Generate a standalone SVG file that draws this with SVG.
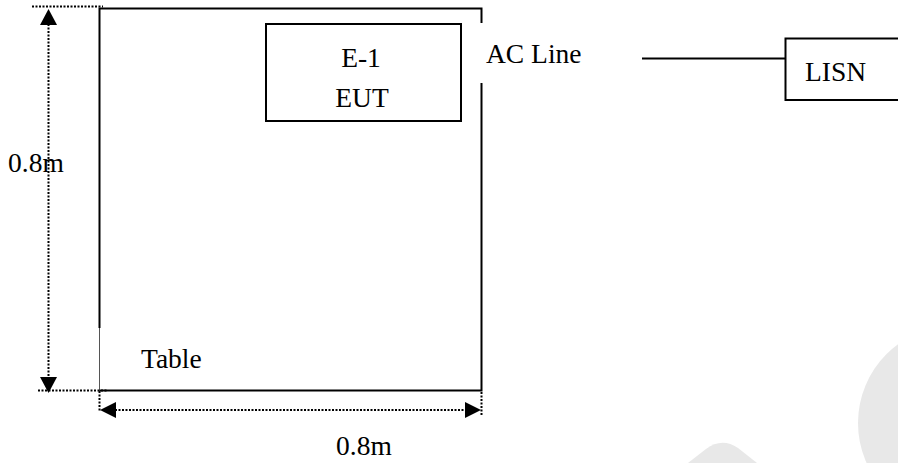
<svg xmlns="http://www.w3.org/2000/svg" width="898" height="463" viewBox="0 0 898 463">
<style>
.t{font-family:"Liberation Serif","Times New Roman",serif;font-size:27.5px;fill:#000}
.ln{stroke:#000;stroke-width:2;fill:none}
.thin{stroke:#555;stroke-width:1;fill:none}
.dot{stroke:#000;stroke-width:2;stroke-dasharray:2,1.5;fill:none}
.ah{fill:#000}
.wm{fill:#e8e8e8}
</style>
<rect width="898" height="463" fill="#fff"/>
<g id="watermark">
<circle class="wm" cx="955.5" cy="423" r="97.5"/>
<path class="wm" d="M688 463 L706 449 Q722 437 738 448 L757 463 Z"/>
</g>
<g id="table">
<path class="ln" d="M99.5 328 V8.5 H481.5 V23"/>
<path class="ln" d="M481.5 83 V390.5 H99.5"/>
<path class="thin" d="M99.5 328 V391"/>
<text class="t" x="141" y="368">Table</text>
</g>
<g id="eut">
<rect class="ln" x="266" y="24" width="195" height="97"/>
<text class="t" x="361" y="66.5" text-anchor="middle">E-1</text>
<text class="t" x="362" y="106.5" text-anchor="middle">EUT</text>
</g>
<g id="lisn">
<rect class="ln" x="785.5" y="38.5" width="120" height="61.5"/>
<text class="t" x="805" y="81">LISN</text>
</g>
<g id="connectors">
<path class="ln" d="M642 58.5 H785.5"/>
<text class="t" x="486" y="63">AC Line</text>
</g>
<g id="dimensions">
<path class="dot" d="M32 6.5 H103"/>
<path class="dot" d="M38 390.5 H108"/>
<path class="dot" d="M48.5 24 V378"/>
<polygon class="ah" points="48.5,9 40,25 57,25"/>
<polygon class="ah" points="48.5,393 40,377 57,377"/>
<path class="dot" d="M99.5 391 V412"/>
<path class="dot" d="M481.5 392 V416"/>
<path class="dot" d="M115 410 H466"/>
<polygon class="ah" points="100,410 116,402 116,418"/>
<polygon class="ah" points="481,410 465,402 465,418"/>
<text class="t" x="8" y="171.5">0.8m</text>
<text class="t" x="336" y="455">0.8m</text>
</g>
</svg>
